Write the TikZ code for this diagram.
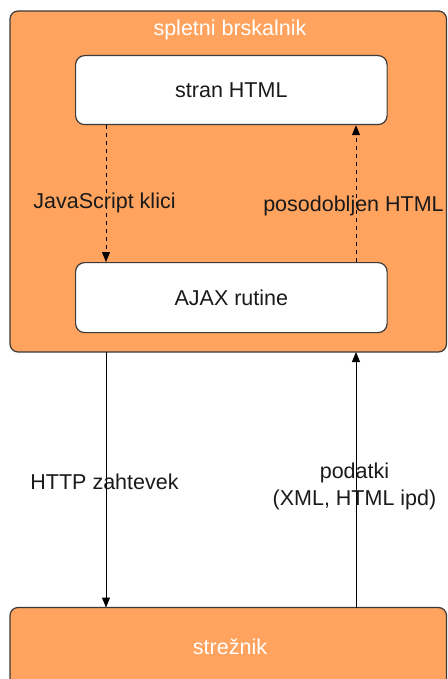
\documentclass[tikz,border=0pt]{standalone}
\usepackage{fontspec}
\setmainfont{Liberation Sans}
\usetikzlibrary{arrows.meta}
\definecolor{boxorange}{HTML}{FFA35E}
\definecolor{boxedge}{HTML}{3A3A3A}
\definecolor{txt}{HTML}{1A1A1A}
\tikzset{
  x=1pt, y=-1pt,
  container/.style={draw=boxedge, line width=1.2pt, fill=boxorange, rounded corners=8pt},
  panel/.style={draw=boxedge, line width=1.2pt, fill=white, rounded corners=9pt},
  lbl/.style={font=\fontsize{21.5}{26.5}\selectfont, text=txt, align=center, inner sep=0pt},
  wlbl/.style={font=\fontsize{21.5}{26.5}\selectfont, text=white, inner sep=0pt},
  flow/.style={line width=1pt, draw=black, -{Triangle[length=10pt,width=8pt]}},
  dflow/.style={flow, dash pattern=on 4pt off 4pt},
}
\begin{document}
\begin{tikzpicture}
\useasboundingbox (0,0) rectangle (447,679);
\clip (0,0) rectangle (447,679);

% browser container and server box
\draw[container] (10,11) rectangle (446.5,352);
\node[wlbl] (browser) at (230,30) {spletni brskalnik};
\draw[container] (10,607.5) rectangle (446.5,720);
\node[wlbl] (server) at (230,647) {strežnik};

% inner panels
\node[panel, minimum width=311.5pt, minimum height=69pt, anchor=north west] (page) at (75,55) {};
\node[lbl] at (page.center) {stran HTML};
\node[panel, minimum width=311.5pt, minimum height=70pt, anchor=north west] (ajax) at (75,262) {};
\node[lbl] at (ajax.center) {AJAX rutine};

% anchor points on the container edges
\coordinate (bL) at (106,352);
\coordinate (bR) at (356,352);
\coordinate (sL) at (106,607.5);
\coordinate (sR) at (356,607.5);

% calls inside the browser
\draw[dflow] (page.south -| bL) -- (ajax.north -| bL);
\draw[dflow] (ajax.north -| bR) -- (page.south -| bR);
\node[lbl] (jsl) at (104.5,203) {JavaScript klici};
\node[lbl] (upd) at (353.5,205.5) {posodobljen HTML};

% traffic between browser and server
\draw[flow] (bL) -- (sL);
\draw[flow] (sR) -- (bR);
\node[lbl] (req) at (104.5,481.5) {HTTP zahtevek};
\node[lbl] (resp) at (354.5,486.5) {podatki\\(XML, HTML ipd)};
\end{tikzpicture}
\end{document}
